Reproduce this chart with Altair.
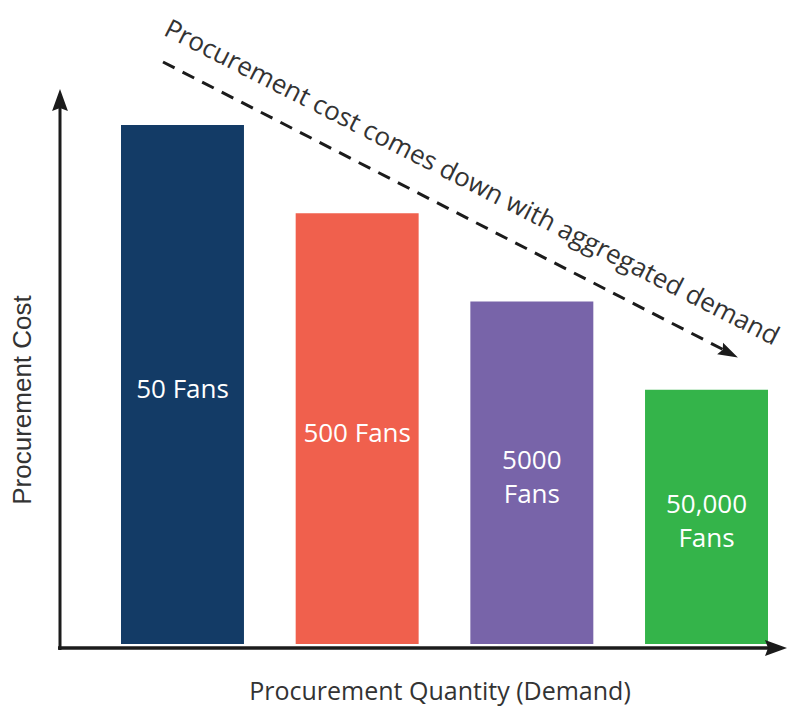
import altair as alt
import pandas as pd

# ---- data ----
categories = ["50 Fans", "500 Fans", "5000 Fans", "50,000 Fans"]
bar_labels = ["50 Fans", "500 Fans", "5000\nFans", "50,000\nFans"]
costs = [100, 83, 66, 49]
bar_colors = ["#133B66", "#F0604D", "#7864A9", "#34B44A"]

x_title = "Procurement Quantity (Demand)"
y_title = "Procurement Cost"
annotation = "Procurement cost comes down with aggregated demand"

df = pd.DataFrame({"category": categories, "label": bar_labels, "cost": costs})
one = pd.DataFrame({"k": [0]})

W, H = 793, 708
AX = "#1b1b1b"
TXT = "#333333"
PX_PER_UNIT = (644 - 125) / 100.0

x_scale = alt.Scale(domain=categories, range=[121, 768], paddingInner=0.296, paddingOuter=0)
y_scale = alt.Scale(domain=[0, 100], range=[644, 125])

bars = alt.Chart(df).mark_bar().encode(
    x=alt.X("category:N", scale=x_scale, axis=None, sort=categories),
    y=alt.Y("cost:Q", scale=y_scale, axis=None),
    color=alt.Color("category:N", scale=alt.Scale(domain=categories, range=bar_colors), legend=None),
)

labels = alt.Chart(df).transform_calculate(
    nlines="length(split(datum.label, '\\n'))"
).transform_calculate(
    mid=f"datum.cost / 2 + (datum.nlines - 1) * 17 / {PX_PER_UNIT}"
).mark_text(
    color="white", font="Open Sans", fontSize=26, lineBreak="\n", lineHeight=34,
    baseline="middle", align="center", dy=5,
).encode(
    x=alt.X("category:N", scale=x_scale, axis=None, sort=categories),
    y=alt.Y("mid:Q", scale=y_scale, axis=None),
    text="label:N",
)

base = alt.Chart(one)

y_axis = base.mark_rule(color=AX, strokeWidth=3).encode(
    x=alt.value(60), y=alt.value(650), y2=alt.value(104))
x_axis = base.mark_rule(color=AX, strokeWidth=3.5).encode(
    x=alt.value(58), x2=alt.value(775), y=alt.value(648))

arrow_shape = "M0,-1 L0.72,1 L0,0.72 L-0.72,1 Z"
y_head = base.mark_point(shape=arrow_shape, filled=True, color=AX, opacity=1, size=484, strokeWidth=0).encode(
    x=alt.value(60), y=alt.value(100))
x_head = base.mark_point(shape=arrow_shape, filled=True, color=AX, opacity=1, size=484, strokeWidth=0, angle=90).encode(
    x=alt.value(776), y=alt.value(648))

dash = base.mark_rule(color=AX, strokeWidth=3, strokeDash=[13, 9]).encode(
    x=alt.value(163), y=alt.value(62), x2=alt.value(726), y2=alt.value(351))
dash_head = base.mark_point(shape="M0,-1 L0.65,1 L0,0.7 L-0.65,1 Z", filled=True, color=AX, opacity=1,
                            size=400, strokeWidth=0, angle=117).encode(
    x=alt.value(729), y=alt.value(353))

ann = base.mark_text(angle=27, align="center", baseline="alphabetic", font="Open Sans",
                     fontSize=26, color=TXT).encode(
    x=alt.value(468), y=alt.value(190), text=alt.value(annotation))

xt = base.mark_text(align="center", baseline="middle", font="Open Sans", fontSize=25, color=TXT).encode(
    x=alt.value(440), y=alt.value(692), text=alt.value(x_title))
yt = base.mark_text(align="center", baseline="middle", font="Liberation Sans", fontSize=26, color=TXT, angle=270).encode(
    x=alt.value(23), y=alt.value(400), text=alt.value(y_title))

chart = alt.layer(bars, labels, y_axis, x_axis, y_head, x_head, dash, dash_head, ann, xt, yt).properties(
    width=W, height=H, padding=0, autosize=alt.AutoSizeParams(type="none"),
    background="white",
).configure_view(stroke=None).resolve_scale(x="shared", y="shared")

chart.save("out.html", embed_options={"renderer": "svg", "actions": False})
